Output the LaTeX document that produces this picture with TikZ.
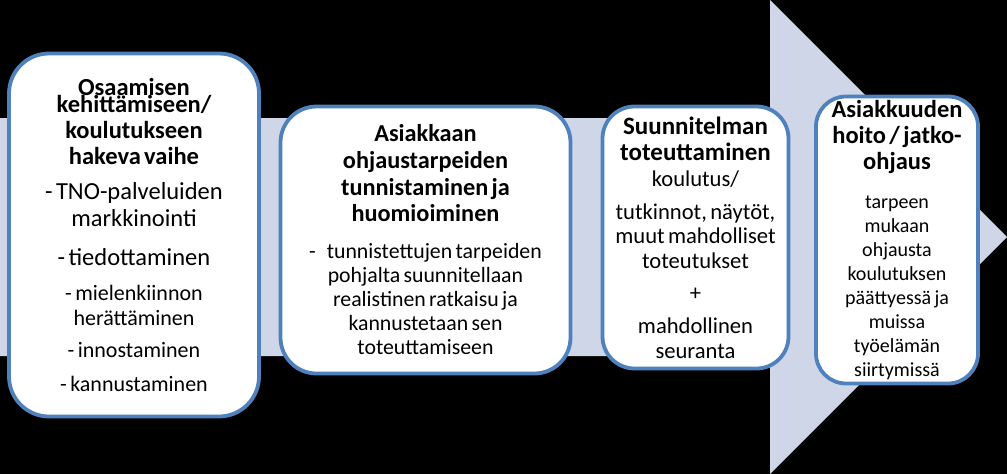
\documentclass[tikz,border=0pt]{standalone}
\usepackage{fontspec}
\setmainfont{Carlito}
\usepackage{tikz}
\definecolor{boxline}{HTML}{4F81BD}
\definecolor{arrowfill}{HTML}{CFD6E8}
\tikzset{
	phasebox/.style={draw=boxline, line width=3.8pt, fill=white, rounded corners=36pt, inner sep=0pt, align=center},
}
\def\titlefont#1#2{\fontsize{#1}{#2}\selectfont\bfseries}
\def\bodyfont#1#2{\fontsize{#1}{#2}\selectfont\mdseries}

\begin{document}
\begin{tikzpicture}[x=1pt, y=-1pt]
		%%%%% START %%%%%
		
		\fill[black] (0, 0) rectangle (1007, 474);
		\useasboundingbox (0, 0) rectangle (1007, 474);
		
		\fill[arrowfill] (0, 118) -- (770, 118) -- (770, 0) -- (1007, 237) -- (770, 474) -- (770, 356) -- (0, 356) -- cycle;
		
		\node[phasebox, text width=250pt, minimum height=363pt, rounded corners=40pt] (haku) at (134, 235)
			{{\titlefont{24.5}{26}Osaamisen\\[-9pt] kehittämiseen/\\ koulutukseen\\ hakeva vaihe\par}\vspace{8pt}
			 {\bodyfont{24.5}{27}- TNO-palveluiden\\ markkinointi\par}\vspace{12pt}
			 {\bodyfont{24.5}{27}- tiedottaminen\par}\vspace{10pt}
			 {\bodyfont{22}{25}- mielenkiinnon\\ herättäminen\par}\vspace{7pt}
			 {\bodyfont{22}{25}- innostaminen\par}\vspace{9pt}
			 {\bodyfont{22}{25}- kannustaminen\par}\vspace{16pt}};
		
		\node[phasebox, text width=290pt, minimum height=267pt] (tarpeet) at (425.5, 240)
			{{\titlefont{24.3}{26.7}Asiakkaan\\ ohjaustarpeiden\\ tunnistaminen ja\\ huomioiminen\par}\vspace{13pt}
			 {\bodyfont{21.8}{24}-\enspace tunnistettujen tarpeiden\\ pohjalta suunnitellaan\\ realistinen ratkaisu ja\\ kannustetaan sen\\ toteuttamiseen\par}\vspace{4pt}};
		
		\node[phasebox, text width=186pt, minimum height=262pt, rounded corners=32pt] (toteutus) at (695.5, 237.5)
			{{\titlefont{25}{26}Suunnitelman\\ toteuttaminen\par}\vspace{1.5pt}
			 {\bodyfont{22.6}{24.5}koulutus/\par}\vspace{8.5pt}
			 {\bodyfont{22.6}{24.5}tutkinnot, näytöt,\\ muut mahdolliset\\ toteutukset\par}\vspace{8pt}
			 {\bodyfont{22.6}{24.5}+\par}\vspace{8.5pt}
			 {\bodyfont{22.6}{24.5}mahdollinen\\ seuranta\par}\vspace{2pt}};
		
		\node[phasebox, text width=162pt, minimum height=287pt, rounded corners=30pt] (jatko) at (897, 240)
			{{\titlefont{24.5}{26}Asiakkuuden\\ hoito / jatko-\\ ohjaus\par}\vspace{15pt}
			 {\bodyfont{20}{24}tarpeen\\ mukaan\\ ohjausta\\ koulutuksen\\ päättyessä ja\\ muissa\\ työelämän\\ siirtymissä\par}};
		
		%%%%% END %%%%%
	\end{tikzpicture}
\end{document}
